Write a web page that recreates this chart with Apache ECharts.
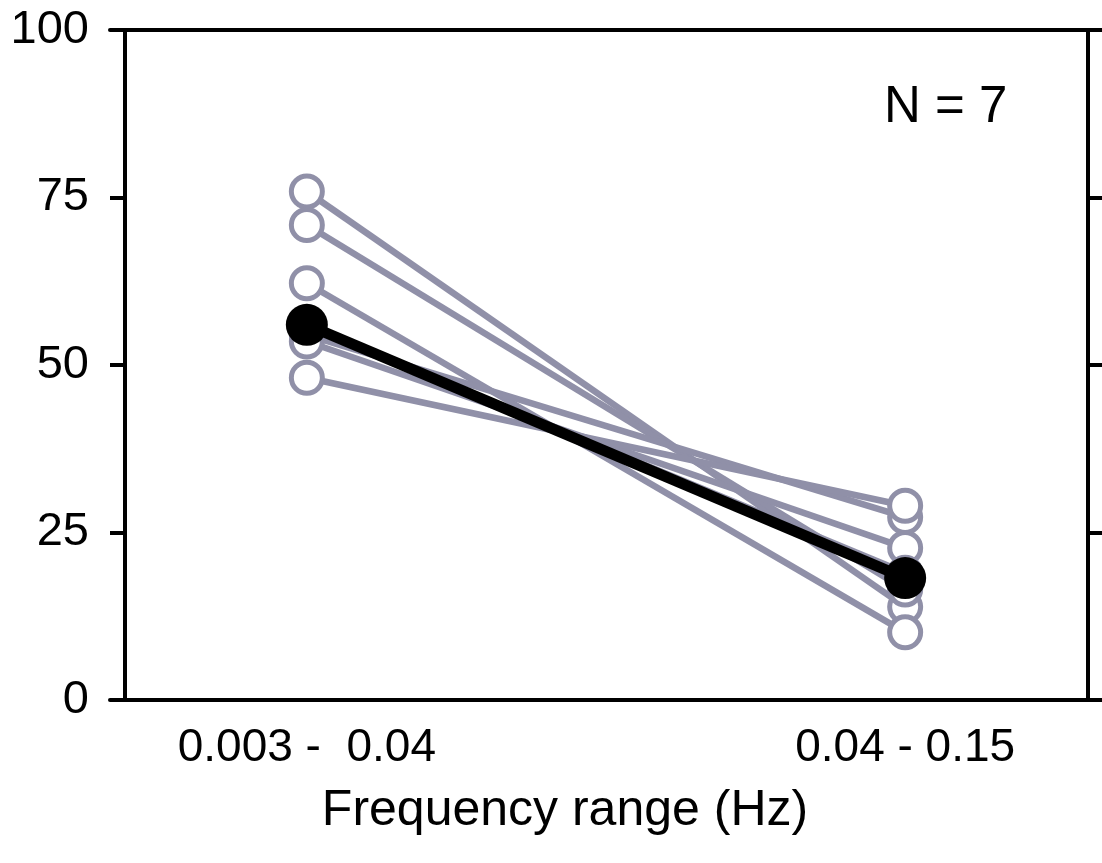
<!DOCTYPE html>
<html>
<head>
<meta charset="utf-8">
<script src="https://cdn.jsdelivr.net/npm/echarts@6/dist/echarts.min.js"></script>
<style>
html,body{margin:0;padding:0;background:#fff;}
#chart{width:1102px;height:863px;}
</style>
</head>
<body>
<div id="chart"></div>
<script>
// Data
const categories = ['0.003 -  0.04', '0.04 - 0.15'];
const subjectLow  = [75.9, 70.9, 62.2, 54.5, 53.5, 48.1, 56.0];
const subjectHigh = [13.9, 16.5, 10.1, 27.3, 22.7, 29.0, 19.0];
const groupLow  = 56.0;
const groupHigh = 18.2;
const yTicks = [0, 25, 50, 75, 100];
const xAxisTitle = 'Frequency range (Hz)';
const nLabel = 'N = 7';

const grey = '#9090a8';
const font = 'Liberation Sans, Arial, sans-serif';
const xMin = -0.329, xMax = 1.329;
const tickLen = 15;

const series = [];
subjectLow.forEach((v, i) => {
  series.push({
    type: 'line',
    xAxisIndex: 0, yAxisIndex: 0,
    data: [[0, v], [1, subjectHigh[i]]],
    symbol: 'circle',
    symbolSize: 31,
    lineStyle: {color: grey, width: 6.5},
    itemStyle: {color: '#ffffff', borderColor: grey, borderWidth: 5},
    silent: true,
    z: 2
  });
});
series.push({
  type: 'line',
  xAxisIndex: 0, yAxisIndex: 0,
  data: [[0, groupLow], [1, groupHigh]],
  symbol: 'circle',
  symbolSize: 42,
  lineStyle: {color: '#000', width: 11},
  itemStyle: {color: '#000', borderWidth: 0},
  silent: true,
  z: 5
});
series.push({
  type: 'line', xAxisIndex: 1, yAxisIndex: 1,
  data: [], silent: true
});

const yTickStyle = {show: true, inside: false, length: tickLen,
                    lineStyle: {color: '#000', width: 4}};

const chart = echarts.init(document.getElementById('chart'));
chart.setOption({
  animation: false,
  backgroundColor: '#fff',
  // frame lines span the full tick reach; the y axes are moved inward by the tick length
  grid: {left: 110, right: 0, top: 30, bottom: 163, containLabel: false},
  xAxis: [{
    type: 'value',
    min: xMin, max: xMax,
    position: 'bottom',
    axisLine: {show: true, onZero: false, lineStyle: {color: '#000', width: 4}},
    axisTick: {show: false},
    splitLine: {show: false},
    axisLabel: {
      customValues: [0, 1],
      formatter: v => categories[Math.round(v)],
      fontFamily: font, fontSize: 46, color: '#000', margin: 25
    },
    name: xAxisTitle,
    nameLocation: 'middle',
    nameGap: 86,
    nameTextStyle: {fontFamily: font, fontSize: 50, color: '#000', padding: [0, 82, 0, 0]}
  }, {
    type: 'value',
    min: xMin, max: xMax,
    position: 'top',
    axisLine: {show: true, onZero: false, lineStyle: {color: '#000', width: 4}},
    axisTick: {show: false},
    axisLabel: {show: false},
    splitLine: {show: false}
  }],
  yAxis: [{
    type: 'value',
    min: yTicks[0], max: yTicks[yTicks.length - 1], interval: 25,
    position: 'left',
    offset: -tickLen,
    axisLine: {show: true, onZero: false, lineStyle: {color: '#000', width: 4}},
    axisTick: yTickStyle,
    splitLine: {show: false},
    axisLabel: {fontFamily: font, fontSize: 47, color: '#000', margin: 36}
  }, {
    type: 'value',
    min: yTicks[0], max: yTicks[yTicks.length - 1], interval: 25,
    position: 'right',
    offset: -14,
    axisLine: {show: true, onZero: false, lineStyle: {color: '#000', width: 4}},
    axisTick: yTickStyle,
    splitLine: {show: false},
    axisLabel: {show: false}
  }],
  graphic: {elements: [{
    type: 'text', left: 884, top: 82,
    style: {text: nLabel, font: '51px ' + font, fill: '#000'}
  }]},
  series: series
});
</script>
</body>
</html>
